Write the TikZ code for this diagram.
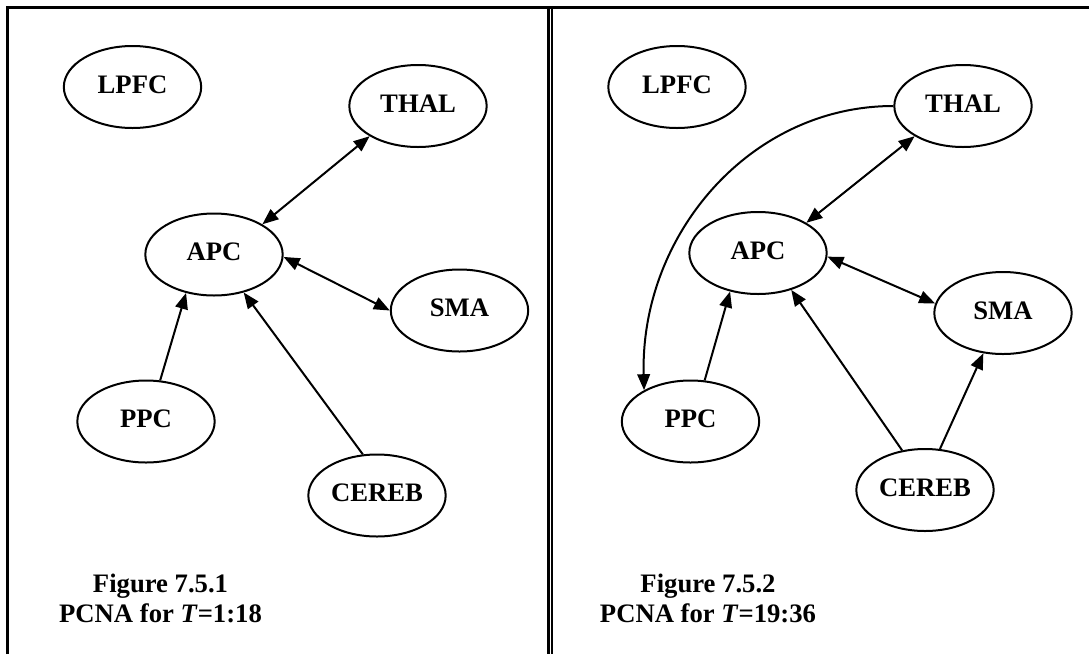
\documentclass[tikz,border=0pt]{standalone}
\usepackage{fontspec}
\setmainfont{Liberation Serif}
\usetikzlibrary{arrows.meta,shapes.geometric}

\tikzset{
  area/.style={ellipse, draw, minimum width=103pt, minimum height=61.5pt,
    inner sep=0pt, text depth=4pt, font=\fontsize{20}{24}\selectfont\bfseries},
  caption/.style={align=center, font=\fontsize{20}{22.5}\selectfont\bfseries},
  frame/.style={line width=2.2pt}
}

\begin{document}
\begin{tikzpicture}[x=0.75pt, y=-0.75pt, line width=1.5pt, >={Triangle[length=12pt,width=9.5pt]}]
      \useasboundingbox (0,0) rectangle (1089,654);

      % Frame round the two panels
      \draw[frame] (7.5,654) -- (7.5,7.5) -- (1089,7.5);
      \draw[frame, line width=2.5pt] (548.3,7.5) -- (548.3,654);
      \draw[frame, line width=2pt] (552,7.5) -- (552,654);

      % Define the positions of the nodes (first panel)
      \node[area] (lpfc1) at (132.5,87) {LPFC};
      \node[area] (thal1) at (418,106) {THAL};
      \node[area] (apc1) at (214,254.5) {APC};
      \node[area] (sma1) at (459.5,310.5) {SMA};
      \node[area] (ppc1) at (146,421.5) {PPC};
      \node[area] (cereb1) at (377,495.5) {CEREB};
      \node[caption] (cap1) at (160.5,598) {Figure 7.5.1\\PCNA for \textit{T}=1:18};

      % Define the positions of the nodes (second panel)
      \node[area] (lpfc2) at (677,87) {LPFC};
      \node[area] (thal2) at (963,106) {THAL};
      \node[area] (apc2) at (758,253) {APC};
      \node[area] (sma2) at (1003,313) {SMA};
      \node[area] (ppc2) at (690.5,421.5) {PPC};
      \node[area] (cereb2) at (925,490) {CEREB};
      \node[caption] (cap2) at (708,598) {Figure 7.5.2\\PCNA for \textit{T}=19:36};

      % Draw the edges (first panel)
      \draw[<->] (apc1.32) -- (thal1.212);
      \draw[<->] (apc1.-2) -- (sma1.180);
      \draw[->] (ppc1.71) -- (apc1.234);
      \draw[->] (cereb1.109) -- (apc1.308);

      % Draw the edges (second panel)
      \draw[->] (thal2.west) .. controls (750,106) and (640,235) .. (ppc2.146);
      \draw[<->] (apc2.32) -- (thal2.212);
      \draw[<->] (apc2.-3) -- (sma2.172);
      \draw[->] (ppc2.71) -- (apc2.234);
      \draw[->] (cereb2.120) -- (apc2.312);
      \draw[->] (cereb2.70) -- (sma2.244);
  \end{tikzpicture}
\end{document}
